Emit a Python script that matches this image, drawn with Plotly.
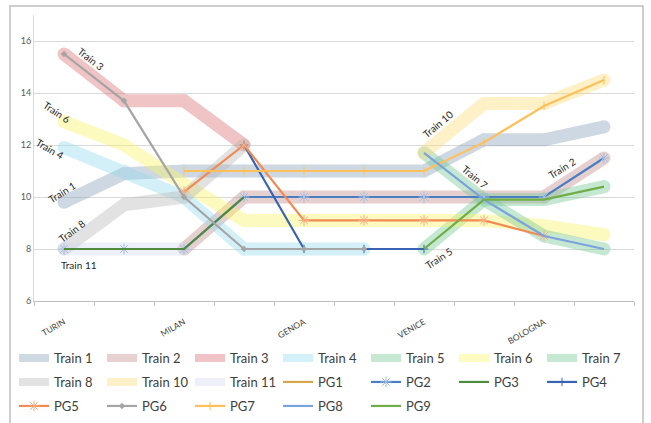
import plotly.graph_objects as go

# Stops along the line (every other position carries a station name)
STOPS = ["TURIN", "", "MILAN", "", "GENOA", "", "VENICE", "", "BOLOGNA", ""]
N = None

# Train paths (wide translucent bands)
TRAIN_1 = [9.8, 10.9, 11, 11, 11, 11, 11, 12.2, 12.2, 12.7]
TRAIN_2 = [N, N, 8, 10, 10, 10, 10, 10, 10, 11.5]
TRAIN_3 = [15.5, 13.7, 13.7, 12, N, N, N, N, N, N]
TRAIN_4 = [11.9, 11.0, 10.0, 8, 8, 8, N, N, N, N]
TRAIN_5 = [N, N, N, N, N, N, 8, 9.9, 9.9, 10.4]
TRAIN_6 = [12.9, 12.0, 10.5, 9.1, 9.1, 9.1, 9.1, 9.1, 8.9, 8.55]
TRAIN_7 = [N, N, N, N, N, N, 11.7, 9.9, 8.5, 8.0]
TRAIN_8 = [8, 9.7, 10, 12, N, N, N, N, N, N]
TRAIN_10 = [N, N, N, N, N, N, 11.7, 13.6, 13.6, 14.5]
TRAIN_11 = [8, 8, 8, N, N, N, N, N, N, N]

# Passenger groups (thin lines)
PG1 = [N, N, N, N, N, N, N, N, N, N]
PG2 = [8, 8, 8, 10, 10, 10, 10, 10, 10, 11.5]
PG3 = [8, 8, 8, 10, N, N, N, N, N, N]
PG4 = [N, N, N, 12, 8, 8, 8, N, N, N]
PG5 = [N, N, 10.2, 12, 9.1, 9.1, 9.1, 9.1, 8.5, N]
PG6 = [15.5, 13.7, 10, 8, 8, 8, N, N, N, N]
PG7 = [N, N, 11, 11, 11, 11, 11, 12.1, 13.5, 14.5]
PG8 = [N, N, N, N, N, N, 11.7, 9.9, 8.5, 8.0]
PG9 = [N, N, N, N, N, N, 8, 9.9, 9.9, 10.4]

X = list(range(len(STOPS)))
FONT = "Lato"

trains = [
    ("Train 1", TRAIN_1, "#87a0b7"),
    ("Train 2", TRAIN_2, "#c18a8a"),
    ("Train 3", TRAIN_3, "#da6c71"),
    ("Train 4", TRAIN_4, "#94daee"),
    ("Train 5", TRAIN_5, "#71c894"),
    ("Train 6", TRAIN_6, "#faf55f"),
    ("Train 7", TRAIN_7, "#71c894"),
    ("Train 8", TRAIN_8, "#b7b7b7"),
    ("Train 10", TRAIN_10, "#fdda76"),
    ("Train 11", TRAIN_11, "#d2daee"),
]

groups = [
    ("PG1", PG1, "#d6a64a", None, "#d6a64a"),
    ("PG2", PG2, "#4a7ec2", "asterisk-open", "#a3bde3"),
    ("PG3", PG3, "#4f8a3f", None, "#4f8a3f"),
    ("PG4", PG4, "#3a62b3", "cross-thin-open", "#3a62b3"),
    ("PG5", PG5, "#f28a52", "asterisk-open", "#f6ad82"),
    ("PG6", PG6, "#a5a5a5", "diamond", "#a5a5a5"),
    ("PG7", PG7, "#ffc05a", "line-ns-open", "#ffc05a"),
    ("PG8", PG8, "#7ba3dc", None, "#7ba3dc"),
    ("PG9", PG9, "#70ad47", None, "#70ad47"),
]

# Legend rows: 7 entries per row
legend_names = [t[0] for t in trains] + [g[0] for g in groups]
row_of = {}
for i, nm in enumerate(legend_names):
    row_of[nm] = ["legend", "legend2", "legend3"][i // 7]

fig = go.Figure()

for name, vals, color in trains:
    # band drawn with round joins/caps (markers), one trace-level opacity
    fig.add_trace(go.Scatter(
        x=X, y=vals, name=name, mode="lines+markers",
        line=dict(color=color, width=13),
        marker=dict(color=color, size=13, symbol="circle"),
        opacity=0.4, hoverinfo="skip", showlegend=False,
    ))

# legend keys for the bands
for name, vals, color in trains:
    fig.add_trace(go.Scatter(
        x=[None], y=[None], name=name, mode="lines",
        line=dict(color=color, width=8), opacity=0.4,
        legend=row_of[name],
    ))

for name, vals, color, sym, mcolor in groups:
    if sym is None:
        mode = "lines"
        marker = dict()
    elif sym == "diamond":
        mode = "lines+markers"
        marker = dict(symbol=sym, size=5, color=mcolor)
    elif sym == "asterisk-open":
        mode = "lines+markers"
        marker = dict(symbol=sym, size=9, color=mcolor,
                      line=dict(color=mcolor, width=1))
    else:
        mode = "lines+markers"
        marker = dict(symbol=sym, size=6, color=mcolor,
                      line=dict(color=mcolor, width=1))
    fig.add_trace(go.Scatter(
        x=X, y=vals, name=name, mode=mode,
        line=dict(color=color, width=2.2), marker=marker,
        legend=row_of[name],
    ))

# Overlay axis carrying the station names
fig.add_trace(go.Scatter(x=[None], y=[None], xaxis="x2", showlegend=False,
                         hoverinfo="skip"))

labels = [
    ("Train 3", 0.45, 15.31, 38),
    ("Train 6", -0.12, 13.27, 34),
    ("Train 4", -0.23, 11.85, 30),
    ("Train 1", -0.03, 10.19, -32),
    ("Train 8", 0.13, 8.69, -37),
    ("Train 11", 0.25, 7.38, 0),
    ("Train 10", 6.23, 12.81, -40),
    ("Train 7", 6.85, 10.77, 40),
    ("Train 2", 8.3, 11.12, -32),
    ("Train 5", 6.25, 7.65, -33),
]
for text, lx, ly, ang in labels:
    fig.add_annotation(x=lx, y=ly, text=text, showarrow=False, textangle=ang,
                       font=dict(family=FONT, size=10, color="#262626"))

label_idx = [i for i, s in enumerate(STOPS) if s]

# plot area: 600 px wide starting at x=34, 286 px tall with bottom at y=301
PLOT_H = 286.0
legend_common = dict(
    orientation="h", xref="paper", yref="paper",
    x=-20 / 600, xanchor="left", yanchor="middle",
    font=dict(family=FONT, size=13, color="#404040"),
    entrywidth=43, entrywidthmode="pixels", itemwidth=30,
    bgcolor="rgba(0,0,0,0)",
)

fig.update_layout(
    width=651, height=423,
    margin=dict(l=34, r=17, t=15, b=122, autoexpand=False),
    paper_bgcolor="white", plot_bgcolor="white",
    font=dict(family=FONT, color="#595959"),
    showlegend=True,
    xaxis=dict(
        range=[-0.5, len(STOPS) - 0.5],
        tickvals=[i - 0.5 for i in range(len(STOPS) + 1)],
        showticklabels=False, ticks="outside", ticklen=4,
        tickcolor="#bfbfbf", showline=True, linecolor="#bfbfbf",
        showgrid=False, zeroline=False,
    ),
    xaxis2=dict(
        overlaying="x", anchor="y", side="bottom",
        range=[-0.5, len(STOPS) - 0.5],
        tickvals=label_idx, ticktext=[STOPS[i] for i in label_idx],
        tickangle=-30, ticks="outside", ticklen=12,
        tickcolor="rgba(0,0,0,0)", showgrid=False, zeroline=False,
        tickfont=dict(family=FONT, size=8.5, color="#404040"),
    ),
    yaxis=dict(
        range=[6, 17], tickvals=[6, 8, 10, 12, 14, 16],
        showgrid=True, gridcolor="#d9d9d9", gridwidth=1,
        showline=True, linecolor="#d9d9d9", zeroline=False,
        tickfont=dict(family=FONT, size=9, color="#595959"),
    ),
    legend=dict(legend_common, y=-(358 - 301) / PLOT_H),
    legend2=dict(legend_common, y=-(382 - 301) / PLOT_H),
    legend3=dict(legend_common, y=-(406 - 301) / PLOT_H),
    shapes=[dict(type="rect", xref="paper", yref="paper",
                 x0=-0.04, x1=1.015, y0=-0.6, y1=1.0315,
                 line=dict(color="#bfbfbf", width=1.5), layer="below")],
)

fig.write_html("out.html")
